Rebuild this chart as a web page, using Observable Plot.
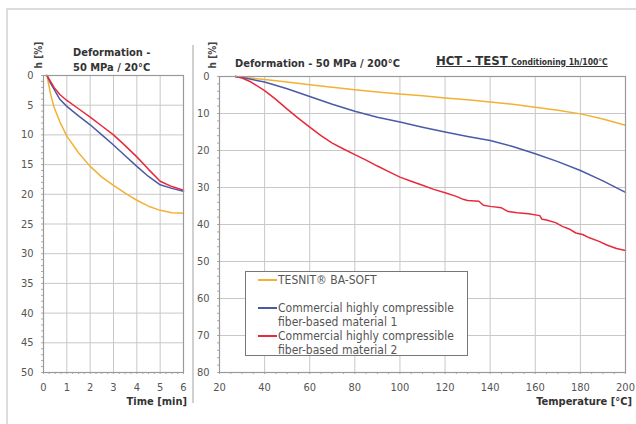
<!DOCTYPE html>
<html><head><meta charset="utf-8">
<script src="https://cdn.jsdelivr.net/npm/d3@7"></script>
<script src="https://cdn.jsdelivr.net/npm/@observablehq/plot@0.6"></script>
<style>
body{margin:0;background:#fff;}
#wrap{position:relative;width:636px;height:424px;overflow:hidden;background:#fff;font-family:"DejaVu Sans Condensed","DejaVu Sans",sans-serif;color:#444;}
#wrap svg{position:absolute;top:0;}
.abs{position:absolute;white-space:nowrap;}
.ttl{font-weight:bold;font-size:11px;color:#333;}
.leg{font-size:12px;color:#555;line-height:14px;}
.sw{position:absolute;left:0;width:19px;height:0;}
</style></head>
<body><div id="wrap"></div>
<script>
// Left panel: deformation at 50 MPa / 20°C vs time
const timeMin   = [0.15,0.3,0.45,0.7,1,1.5,2,2.5,3,3.5,4,4.5,5,5.5,6];
const leftBaSoft = [0,3.1,5.3,7.8,10.2,13,15.3,17.1,18.5,19.8,21,22,22.7,23.1,23.2];
const leftMat1   = [0,1.3,2.3,4,5.2,6.8,8.3,10,11.7,13.5,15.3,17,18.4,19.0,19.5];
const leftMat2   = [0,1.0,2.0,3.2,4.2,5.6,7,8.5,10,11.8,13.7,15.8,17.8,18.7,19.3];
const leftXTicks = [0,1,2,3,4,5,6];
const leftYTicks = [0,5,10,15,20,25,30,35,40,45,50];

// Right panel: deformation at 50 MPa / 200°C vs temperature
const tempC       = [27,30,40,50,60,70,80,90,100,110,120,130,140,150,160,170,180,190,200];
const rightBaSoft = [0,0.2,0.8,1.5,2.2,2.9,3.6,4.2,4.7,5.2,5.8,6.3,6.9,7.5,8.3,9.1,10.1,11.5,13.2];
const rightMat1   = [0,0.3,1.5,3.3,5.4,7.5,9.4,11,12.3,13.7,15,16.2,17.3,18.9,20.9,23,25.4,28.2,31.3];
const tempRed     = [27,30,34,40,45,50,55,60,65,70,75,80,85,90,95,100,105,110,115,120,125,128,130,135,137,140,145,148,152,157,162,163,165,169,172,175,178,181,184,188,192,196,200];
const rightMat2   = [0,0.4,1.5,3.8,6.2,8.8,11.3,13.7,16,18,19.6,21.1,22.6,24.2,25.7,27.2,28.3,29.4,30.5,31.4,32.4,33.2,33.5,33.7,34.8,35.1,35.5,36.5,36.8,37.1,37.6,38.6,38.8,39.5,40.5,41.2,42.3,42.7,43.6,44.5,45.6,46.5,47];
const rightXTicks = [20,40,60,80,100,120,140,160,180,200];
const rightYTicks = [0,10,20,30,40,50,60,70,80];

const seriesNames = ["TESNIT® BA-SOFT","Commercial highly compressible fiber-based material 1","Commercial highly compressible fiber-based material 2"];
const seriesColors = ["#f2b134","#4b5aa6","#e8293b"];

function rows(xs, ys){ return xs.map((x,i)=>({x, y: ys[i]})); }

const wrap = document.getElementById("wrap");
const style = {fontFamily:'"DejaVu Sans Condensed","DejaVu Sans",sans-serif', fontSize:"11px", color:"#555", background:"transparent", overflow:"visible"};
const fmt = d => String(d);

function panel({width, left, mL, mR, mT, mB, xDom, yDom, xTicks, yTicks, xMinor, yMinor, series}){
  const p = Plot.plot({
    width, height: 424, marginLeft: mL, marginRight: mR, marginTop: mT, marginBottom: mB,
    style,
    x: {domain: xDom, label: null},
    y: {domain: yDom, reverse: true, label: null},
    marks: [
      Plot.gridX(xTicks, {stroke:"#c8c8c8", strokeOpacity:1, strokeWidth:1}),
      Plot.gridY(yTicks, {stroke:"#c8c8c8", strokeOpacity:1, strokeWidth:1}),
      Plot.axisX({ticks: xMinor, tickSize: 2, text: null, label: null, stroke:"#aaa"}),
      Plot.axisY({ticks: yMinor, tickSize: 2, text: null, label: null, stroke:"#aaa"}),
      Plot.axisX({ticks: xTicks, tickSize: 0, tickPadding: 11, tickFormat: fmt, label: null, fill:"#555"}),
      Plot.axisY({ticks: yTicks, tickSize: 0, tickPadding: 10, tickFormat: fmt, label: null, fill:"#555"}),
      ...series.map((s,i)=>Plot.line(s, {x:"x", y:"y", stroke: seriesColors[i], strokeWidth: 1.5})),
      Plot.frame({stroke:"#999", strokeWidth:1.2})
    ]
  });
  p.style.left = left + "px";
  wrap.appendChild(p);
}

panel({width:193, left:0, mL:43, mR:10, mT:75, mB:52, xDom:[0,6], yDom:[0,50],
  xTicks:leftXTicks, yTicks:leftYTicks, xMinor:d3.range(0,6.01,0.25), yMinor:d3.range(0,50.1,1),
  series:[rows(timeMin,leftBaSoft), rows(timeMin,leftMat1), rows(timeMin,leftMat2)]});

panel({width:443, left:193, mL:26, mR:11, mT:76, mB:52, xDom:[20,200], yDom:[0,80],
  xTicks:rightXTicks, yTicks:rightYTicks, xMinor:d3.range(20,200.1,5), yMinor:d3.range(0,80.1,2),
  series:[rows(tempC,rightBaSoft), rows(tempC,rightMat1), rows(tempRed,rightMat2)]});

function add(html, css, cls){
  const d = document.createElement("div");
  d.className = "abs " + (cls||"");
  d.innerHTML = html;
  Object.assign(d.style, css);
  wrap.appendChild(d);
  return d;
}
// frame lines
add("", {left:"6px", top:"8px", width:"630px", height:"2px", background:"#dcdcdc"});
add("", {left:"6px", top:"8px", width:"2px", height:"416px", background:"#dcdcdc"});
add("", {left:"192px", top:"45px", width:"2px", height:"358px", background:"#d0d0d0"});

// titles
add("Deformation -<br>50 MPa / 20°C", {left:"73px", top:"45px", lineHeight:"15px", textAlign:"left"}, "ttl");
add("Deformation - 50 MPa / 200°C", {left:"235px", top:"57px"}, "ttl");
add('<span style="font-size:13px">HCT - TEST</span> <span style="font-size:8.5px">Conditioning 1h/100°C</span>',
  {left:"436px", top:"53px", textDecoration:"underline"}, "ttl");

// y-axis labels
add("h [%]", {left:"38px", top:"55px", transform:"translate(-50%,-50%) rotate(-90deg)", fontSize:"10px", color:"#444", fontWeight:"bold"});
add("h [%]", {left:"212px", top:"55px", transform:"translate(-50%,-50%) rotate(-90deg)", fontSize:"10px", color:"#444", fontWeight:"bold"});

// x-axis labels
add("Time [min]", {right:(636-187)+"px", top:"395px"}, "ttl");
add("Temperature [°C]", {right:"4px", top:"395px"}, "ttl");

// legend
const leg = add("", {left:"245px", top:"271px", width:"221px", height:"83px", border:"1px solid #777", background:"#fff"});
const legItems = [
  {top:1, text:seriesNames[0]},
  {top:29, text:"Commercial highly compressible<br>fiber-based material 1"},
  {top:57, text:"Commercial highly compressible<br>fiber-based material 2"}
];
legItems.forEach((it,i)=>{
  const row = document.createElement("div");
  row.className = "abs leg";
  Object.assign(row.style, {left:"12px", top:it.top+"px", paddingLeft:"20px"});
  row.innerHTML = '<div class="sw" style="top:6px;border-top:2px solid '+seriesColors[i]+'"></div>' + it.text;
  leg.appendChild(row);
});
</script>
</body></html>
